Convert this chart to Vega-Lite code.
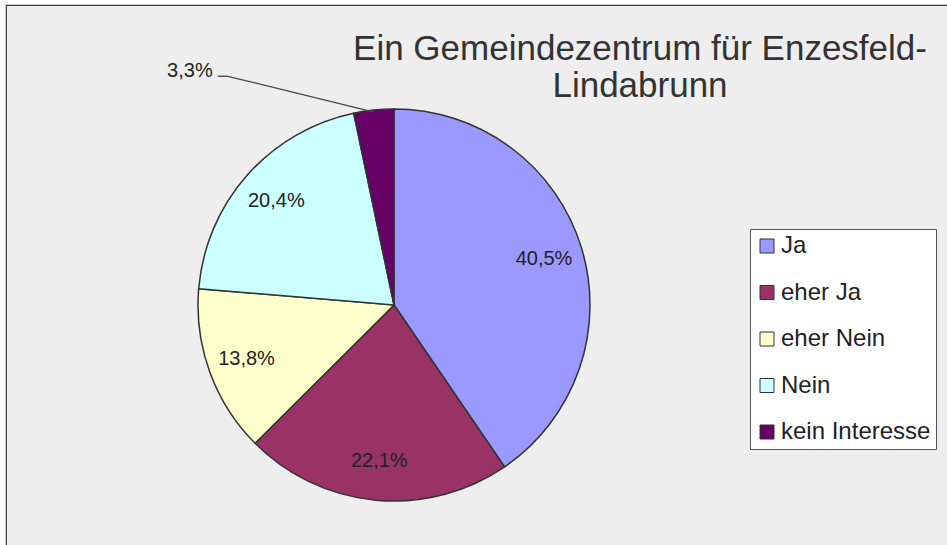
{
  "$schema": "https://vega.github.io/schema/vega-lite/v6.json",
  "width": 942,
  "height": 541,
  "autosize": {"type": "none"},
  "padding": {"left": 6, "top": 5, "right": 0, "bottom": 0},
  "background": "#ffffff",
  "config": {
    "locale": {"number": {"decimal": ",", "thousands": ".", "grouping": [3], "currency": ["", " €"]}},
    "view": {"stroke": "#3a3a3a", "strokeWidth": 1.2, "fill": "#eeeeee"},
    "font": "Liberation Sans"
  },
  "title": {
    "text": ["Ein Gemeindezentrum für Enzesfeld-", "Lindabrunn"],
    "anchor": "start",
    "frame": "group",
    "align": "center",
    "baseline": "top",
    "dx": 634,
    "dy": 99,
    "offset": 0,
    "fontSize": 35,
    "fontWeight": "normal",
    "font": "Liberation Sans",
    "color": "#333333",
    "lineHeight": 37
  },
  "data": {
    "values": [
      {"category": "Ja", "share": 0.405},
      {"category": "eher Ja", "share": 0.221},
      {"category": "eher Nein", "share": 0.138},
      {"category": "Nein", "share": 0.204},
      {"category": "kein Interesse", "share": 0.033}
    ]
  },
  "transform": [{"window": [{"op": "row_number", "as": "idx"}]}],
  "layer": [
    {
      "mark": {"type": "arc", "outerRadius": 196, "stroke": "#333333", "strokeWidth": 1.5},
      "encoding": {
        "theta": {"field": "share", "type": "quantitative", "stack": true},
        "order": {"field": "idx", "type": "quantitative"},
        "color": {
          "field": "category",
          "type": "nominal",
          "sort": null,
          "scale": {
            "domain": ["Ja", "eher Ja", "eher Nein", "Nein", "kein Interesse"],
            "range": ["#9999ff", "#993366", "#ffffcc", "#ccffff", "#660066"]
          },
          "legend": {
            "title": null,
            "orient": "none",
            "legendX": 744,
            "legendY": 224,
            "direction": "vertical",
            "padding": 5,
            "fillColor": "#ffffff",
            "strokeColor": "#555555",
            "symbolType": "square",
            "symbolSize": 196,
            "symbolStrokeColor": "#333333",
            "symbolStrokeWidth": 1,
            "labelFontSize": 24,
            "labelFont": "Liberation Sans",
            "labelColor": "#222222",
            "labelOffset": 2,
            "rowPadding": 22.5,
            "labelLimit": 0
          }
        },
        "x": {"datum": 0, "type": "quantitative", "scale": {"domain": [-388, 554], "nice": false, "zero": false}, "axis": null},
        "y": {"datum": 0, "type": "quantitative", "scale": {"domain": [-241, 300], "nice": false, "zero": false}, "axis": null}
      }
    },
    {
      "mark": {"type": "text", "radius": 157, "fontSize": 20, "font": "Liberation Sans", "color": "#222222", "align": "center", "baseline": "middle"},
      "encoding": {
        "theta": {"field": "share", "type": "quantitative", "stack": true},
        "order": {"field": "idx", "type": "quantitative"},
        "text": {"condition": {"test": "datum.category === 'kein Interesse'", "value": ""}, "field": "share", "type": "quantitative", "format": ".1%"},
        "x": {"datum": 0, "type": "quantitative", "scale": {"domain": [-388, 554], "nice": false, "zero": false}, "axis": null},
        "y": {"datum": 0, "type": "quantitative", "scale": {"domain": [-241, 300], "nice": false, "zero": false}, "axis": null}
      }
    },
    {
      "mark": {"type": "text", "radius": 235, "dx": -157, "fontSize": 20, "font": "Liberation Sans", "color": "#222222", "align": "right", "baseline": "middle"},
      "encoding": {
        "theta": {"field": "share", "type": "quantitative", "stack": true},
        "order": {"field": "idx", "type": "quantitative"},
        "text": {"condition": {"test": "datum.category !== 'kein Interesse'", "value": ""}, "field": "share", "type": "quantitative", "format": ".1%"},
        "x": {"datum": 0, "type": "quantitative", "scale": {"domain": [-388, 554], "nice": false, "zero": false}, "axis": null},
        "y": {"datum": 0, "type": "quantitative", "scale": {"domain": [-241, 300], "nice": false, "zero": false}, "axis": null}
      }
    },
    {
      "transform": [
        {"joinaggregate": [{"op": "sum", "field": "share", "as": "total"}]},
        {"window": [{"op": "sum", "field": "share", "as": "cum"}], "sort": [{"field": "idx"}], "frame": [null, 0]},
        {"filter": "datum.category === 'kein Interesse'"},
        {"calculate": "2 * PI * (datum.cum - datum.share / 2) / datum.total", "as": "ang"},
        {"calculate": "194 * sin(datum.ang)", "as": "xs"},
        {"calculate": "194 * cos(datum.ang)", "as": "ys"},
        {"calculate": "235 * sin(datum.ang) - 142", "as": "xe"},
        {"calculate": "235 * cos(datum.ang) - 5", "as": "ye"}
      ],
      "mark": {"type": "rule", "color": "#444444", "strokeWidth": 1.3},
      "encoding": {
        "x": {"field": "xs", "type": "quantitative", "scale": {"domain": [-388, 554], "nice": false, "zero": false}, "axis": null},
        "y": {"field": "ys", "type": "quantitative", "scale": {"domain": [-241, 300], "nice": false, "zero": false}, "axis": null},
        "x2": {"field": "xe"},
        "y2": {"field": "ye"}
      }
    },
    {
      "transform": [
        {"joinaggregate": [{"op": "sum", "field": "share", "as": "total"}]},
        {"window": [{"op": "sum", "field": "share", "as": "cum"}], "sort": [{"field": "idx"}], "frame": [null, 0]},
        {"filter": "datum.category === 'kein Interesse'"},
        {"calculate": "2 * PI * (datum.cum - datum.share / 2) / datum.total", "as": "ang"},
        {"calculate": "235 * sin(datum.ang) - 142", "as": "xe"},
        {"calculate": "235 * sin(datum.ang) - 152", "as": "xh"},
        {"calculate": "235 * cos(datum.ang) - 5", "as": "ye"}
      ],
      "mark": {"type": "rule", "color": "#444444", "strokeWidth": 1.3},
      "encoding": {
        "x": {"field": "xh", "type": "quantitative", "scale": {"domain": [-388, 554], "nice": false, "zero": false}, "axis": null},
        "x2": {"field": "xe"},
        "y": {"field": "ye", "type": "quantitative", "scale": {"domain": [-241, 300], "nice": false, "zero": false}, "axis": null}
      }
    }
  ]
}
